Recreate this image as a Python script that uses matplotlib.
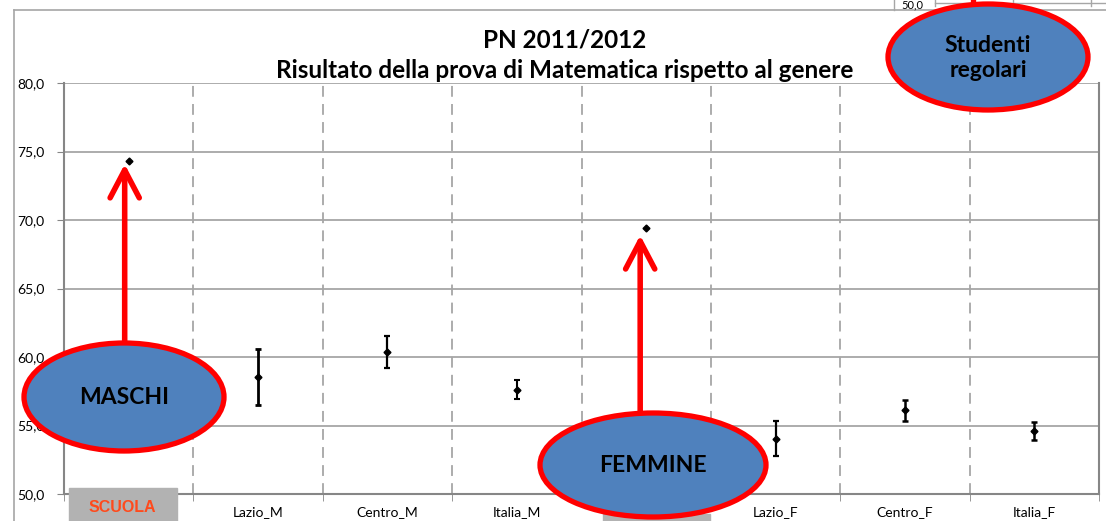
import numpy as np
import matplotlib.pyplot as plt
from matplotlib.patches import Ellipse, Rectangle, FancyArrowPatch

# dati
categorie = ['SCUOLA_M', 'Lazio_M', 'Centro_M', 'Italia_M',
             'SCUOLA_F', 'Lazio_F', 'Centro_F', 'Italia_F']
medie = [74.3, 58.55, 60.35, 57.6, 69.4, 54.05, 56.1, 54.6]
errori = [0.0, 2.05, 1.15, 0.7, 0.0, 1.25, 0.75, 0.63]
yticks = [50, 55, 60, 65, 70, 75, 80]

W, H = 1106, 521
fig = plt.figure(figsize=(W / 100, H / 100), dpi=100)
plt.rcParams['font.family'] = ['Lato', 'DejaVu Sans']

ax = fig.add_axes([64 / W, 27 / H, 1035 / W, 411 / H])
x = np.arange(len(categorie))
spessore = [1.8, 2.0, 1.6, 1.5, 1.8, 1.6, 1.8, 1.8]
for xi, m, e, lw in zip(x, medie, errori, spessore):
    if e > 0:
        ax.errorbar(xi, m, yerr=e, fmt='D', color='black', ms=3.5,
                    elinewidth=lw, capsize=2.5, capthick=lw, zorder=3)
    else:
        ax.plot(xi, m, 'D', color='black', ms=3.5, zorder=3)

ax.set_xlim(-0.5, len(categorie) - 0.5)
ax.set_ylim(50, 80)
ax.set_yticks(yticks)
ax.set_yticklabels([f'{v:.1f}'.replace('.', ',') for v in yticks], fontsize=10)
ax.set_xticks(x)
ax.set_xticklabels(categorie, fontsize=10)
ax.set_xticks(np.arange(-0.5, len(categorie)), minor=True)
ax.tick_params(axis='x', which='major', length=0, pad=9)
ax.tick_params(axis='x', which='minor', length=5, color='#868686', direction='out')
ax.tick_params(axis='y', length=5, color='#868686', pad=9)
ax.yaxis.grid(True, color='#a6a6a6', lw=1.3)
ax.xaxis.grid(True, which='minor', color='#a6a6a6', lw=1.3, ls=(0, (6, 4)))
ax.set_axisbelow(True)
for s in ['left', 'bottom', 'right']:
    ax.spines[s].set_color('#868686')
    ax.spines[s].set_linewidth(1.5)
ax.spines['top'].set_visible(False)

# livello delle annotazioni in pixel
ov = fig.add_axes([0, 0, 1, 1], zorder=5)
ov.set_xlim(0, W)
ov.set_ylim(H, 0)
ov.axis('off')
ov.patch.set_alpha(0)


def to_px(xv, yv):
    return ov.transData.inverted().transform(ax.transData.transform((xv, yv)))


ov.plot([14, 14], [10, H], color='#a6a6a6', lw=1.2)
ov.plot([14, W], [10, 10], color='#a6a6a6', lw=1.2)
ov.plot([894, 894], [0, 10], color='#a6a6a6', lw=1)
ov.plot([935, W], [3, 3], color='#a6a6a6', lw=1)
for tx in [935, 1013, 1091]:
    ov.plot([tx, tx], [0, 6], color='#a6a6a6', lw=1)
ov.text(912, 5, '50,0', fontsize=8, ha='center', va='center')

ov.text(565, 40, 'PN 2011/2012', fontsize=17.5, fontweight='bold',
        ha='center', va='center')
ov.text(565, 71, 'Risultato della prova di Matematica rispetto al genere',
        fontsize=17.5, fontweight='bold', ha='center', va='center')

blu = '#4f81bd'
rosso = '#ff0000'

# box SCUOLA
ov.add_patch(Rectangle((69, 488), 108, 40, color='#b2b2b2', zorder=2))
ov.text(122, 508, 'SCUOLA', fontsize=11.5, fontweight='bold', color='#ff4a1c',
        family='Liberation Sans', ha='center', va='center', zorder=3)
ov.add_patch(Rectangle((603, 514), 107, 20, color='#b2b2b2', zorder=2))


def fumetto(cx, cy, w, h, testo):
    ov.add_patch(Ellipse((cx, cy), w, h, facecolor=blu, edgecolor=rosso,
                         lw=3.8, zorder=4))
    ov.text(cx, cy + 1, testo, fontsize=16.5, fontweight='bold', ha='center',
            va='center', zorder=5, linespacing=1.25)


def freccia(xa, ya, xb, yb):
    ov.add_patch(FancyArrowPatch((xa, ya), (xb, yb),
                                 arrowstyle='->,head_length=2.0,head_width=1.05',
                                 mutation_scale=10, color=rosso, lw=4,
                                 shrinkA=0, shrinkB=0, zorder=4))


tip = to_px(0, medie[0])
freccia(tip[0] - 4, 345, tip[0] - 4, tip[1] + 3)
fumetto(124, 397, 200, 108, 'MASCHI')

tip = to_px(4, medie[4])
freccia(tip[0] - 6, 415, tip[0] - 6, tip[1] + 7)
fumetto(653, 465, 226, 104, 'FEMMINE')

ov.plot([973, 973], [0, 8], color=rosso, lw=3.8, zorder=4)
fumetto(988, 57, 200, 106, 'Studenti\nregolari')

fig.savefig('out.png', dpi=100)
